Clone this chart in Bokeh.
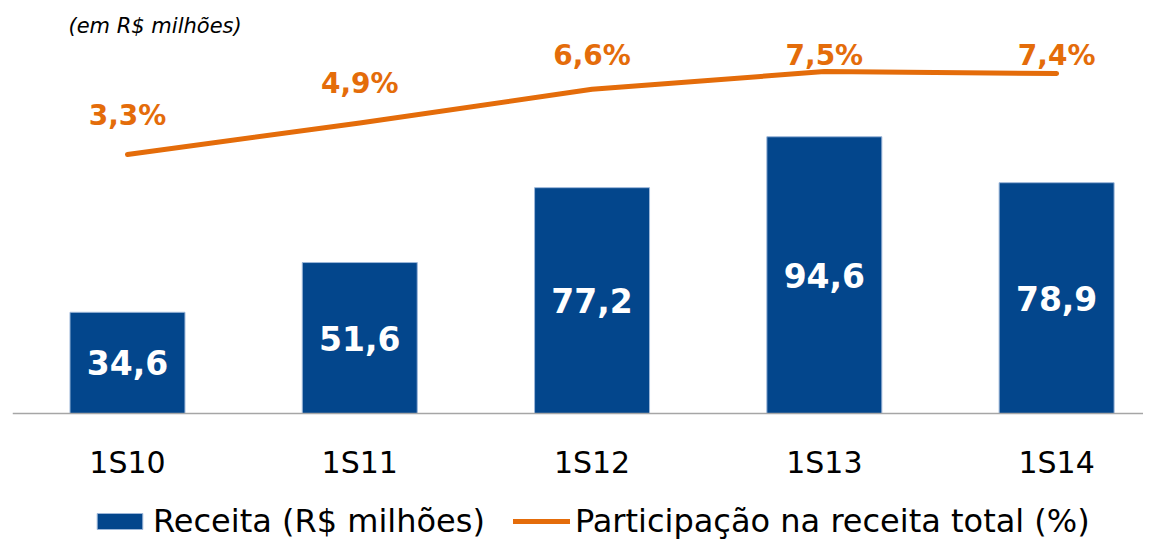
from bokeh.plotting import figure
from bokeh.models import (Range1d, Legend, LegendItem, ColumnDataSource, Title, Span)
from bokeh.core.properties import value
from bokeh.embed import file_html
from bokeh.resources import INLINE

categories = ["1S10", "1S11", "1S12", "1S13", "1S14"]
receita = [34.6, 51.6, 77.2, 94.6, 78.9]
participacao = [3.3, 4.9, 6.6, 7.5, 7.4]
receita_labels = ["34,6", "51,6", "77,2", "94,6", "78,9"]
part_labels = ["3,3%", "4,9%", "6,6%", "7,5%", "7,4%"]

BLUE = "#03468C"
ORANGE = "#E46C0A"

xs = list(range(len(categories)))
src = ColumnDataSource(dict(
    x=xs, cat=categories, zero=[0] * len(xs),
    receita=receita, mid=[v / 2 for v in receita], rlab=receita_labels,
    part=participacao, plab=part_labels,
    plab_y=[min(v + 2.0, 8.3) for v in participacao],
))

p = figure(frame_width=1131, frame_height=500, output_backend="svg", toolbar_location=None,
           x_range=Range1d(-0.495, 4.374), y_range=Range1d(-43.4, 127.5),
           min_border_left=12, min_border_right=0, min_border_top=40, min_border_bottom=0,
           outline_line_color=None)
p.extra_y_ranges = {"pct": Range1d(-16.23, 9.07)}

p.title = Title(text="(em R$ milhões)", text_font="DejaVu Sans",
                text_font_style="italic", text_font_size="21px",
                text_color="#000000", align="left", offset=56, standoff=5)

p.grid.visible = False
p.xaxis.visible = False
p.yaxis.visible = False

# category axis: baseline and labels
p.add_layout(Span(location=0, dimension="width", line_color="#A6A6A6", line_width=1.5))
p.text(x="x", y="zero", text="cat", source=src, y_offset=49,
       text_color="#000000", text_font=value("DejaVu Sans"),
       text_font_size="30px", text_align="center", text_baseline="middle")

bars = p.vbar(x="x", top="receita", bottom=0, width=0.495, source=src, fill_color=BLUE,
              line_color="#9DB7D9", line_width=1)
p.text(x="x", y="mid", text="rlab", source=src, text_color="white",
       text_font=value("DejaVu Sans"), text_font_style="bold",
       text_font_size="33px", text_align="center", text_baseline="middle")

line = p.line(x="x", y="part", source=src, y_range_name="pct", line_color=ORANGE,
              line_width=5, line_cap="round", line_join="round")
p.text(x="x", y="plab_y", text="plab", source=src, y_range_name="pct",
       text_color=ORANGE, text_font=value("DejaVu Sans"), text_font_style="bold",
       text_font_size="28px", text_align="center", text_baseline="middle")

legend = Legend(items=[LegendItem(label="Receita (R$ milhões)", renderers=[bars]),
                       LegendItem(label="Participação na receita total (%)", renderers=[line])],
                orientation="horizontal", location=(79, 0),
                label_text_font="DejaVu Sans", label_text_font_size="32px",
                label_text_color="#000000", glyph_width=57, glyph_height=20,
                label_standoff=5, spacing=28, border_line_color=None,
                background_fill_alpha=0, padding=0, margin=0)
p.add_layout(legend, "center")

open("out.html", "w").write(file_html(p, INLINE))
